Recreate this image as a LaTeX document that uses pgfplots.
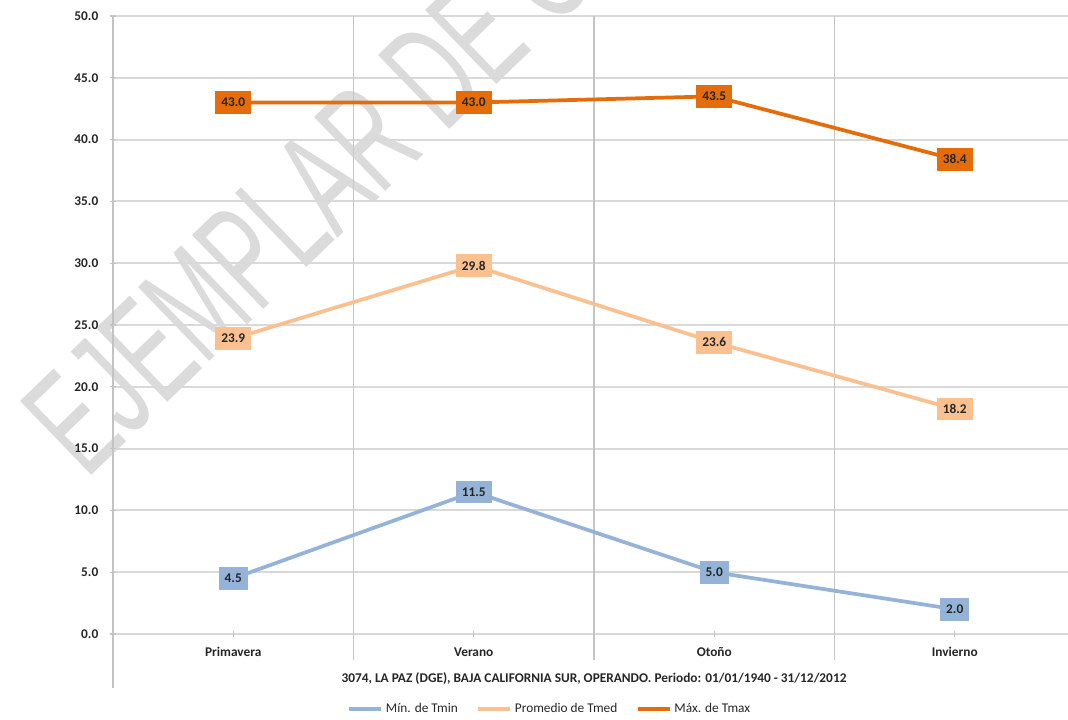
\documentclass[border=0pt]{standalone}
\usepackage{fontspec}
\setmainfont{Carlito}
\newfontfamily\wmfont{Liberation Sans}
\usepackage{pgfplots}
\pgfplotsset{compat=1.18}

\definecolor{tmax}{HTML}{E46C0A}
\definecolor{tmed}{HTML}{FAC090}
\definecolor{tmin}{HTML}{95B3D7}
\definecolor{gridc}{HTML}{D9D9D9}
\definecolor{vgrid}{HTML}{C4C4C4}
\definecolor{txt}{HTML}{262626}

\begin{document}
\begin{tikzpicture}
\useasboundingbox (0,0) rectangle (801pt,539.25pt);
% watermark
\node[rotate=44, xscale=0.6, anchor=base west, inner sep=0pt, text=black!14,
      font=\wmfont\fontsize{112}{112}\selectfont] at (65pt,179pt) {EJEMPLAR DE C};
\begin{axis}[
  at={(84.75pt,63.75pt)}, anchor=south west,
  width=721.5pt, height=463.5pt, scale only axis,
  xmin=-0.5, xmax=3.5, ymin=0, ymax=50,
  xtick={0,1,2,3},
  xticklabels={Primavera,Verano,Otoño,Invierno},
  ytick={0,5,...,50},
  yticklabel={\pgfmathprintnumber[fixed,fixed zerofill,precision=1,assume math mode=true]{\tick}},
  ticklabel style={font=\bfseries, text=txt},
  xticklabel style={anchor=base, yshift=-14pt},
  yticklabel style={anchor=east, xshift=-5pt},
  axis line style={draw=none},
  tick pos=left,
  ymajorgrids, grid style={gridc, line width=1.5pt},
  tick style={vgrid, line width=0.8pt}, tick align=center, major tick length=5pt,
  clip=false,
  xlabel={3074, LA PAZ (DGE), BAJA CALIFORNIA SUR, OPERANDO. Periodo: 01/01/1940 - 31/12/2012},
  xlabel style={at={(axis description cs:0.5,-0.0728)}, anchor=center, font=\bfseries, text=txt},
  legend columns=3,
  legend style={draw=none, fill=none, at={(0.4545,-0.1214)}, anchor=center,
    font=\color{txt}, /tikz/every even column/.append style={column sep=12pt}},
  legend image code/.code={\draw[#1] (0pt,0pt) -- (24pt,0pt);},
  nodes near coords={\pgfmathprintnumber[fixed,fixed zerofill,precision=1,assume math mode=true]{\pgfplotspointmeta}},
  every node near coord/.append style={anchor=center, font=\bfseries, text=txt,
    inner xsep=4.5pt, inner ysep=0pt, minimum height=17pt},
]
% category separators and left axis line
\draw[vgrid, line width=1.1pt] (axis cs:0.5,-2.1) -- (axis cs:0.5,50);
\draw[vgrid, line width=1.1pt] (axis cs:1.5,-2.1) -- (axis cs:1.5,50);
\draw[vgrid, line width=1.1pt] (axis cs:2.5,-2.1) -- (axis cs:2.5,50);
\draw[gridc!90!black, line width=1.1pt] (axis cs:-0.5,-4.37) -- (axis cs:-0.5,50);

\addplot[tmin, line width=2.8pt, every node near coord/.append style={fill=tmin}]
  coordinates {(0,4.5) (1,11.5) (2,5.0) (3,2.0)};
\addlegendentry{Mín. de Tmin}
\addplot[tmed, line width=2.8pt, every node near coord/.append style={fill=tmed}]
  coordinates {(0,23.9) (1,29.8) (2,23.6) (3,18.2)};
\addlegendentry{Promedio de Tmed}
\addplot[tmax, line width=2.8pt, every node near coord/.append style={fill=tmax}]
  coordinates {(0,43.0) (1,43.0) (2,43.5) (3,38.4)};
\addlegendentry{Máx. de Tmax}
\end{axis}
\end{tikzpicture}
\end{document}
